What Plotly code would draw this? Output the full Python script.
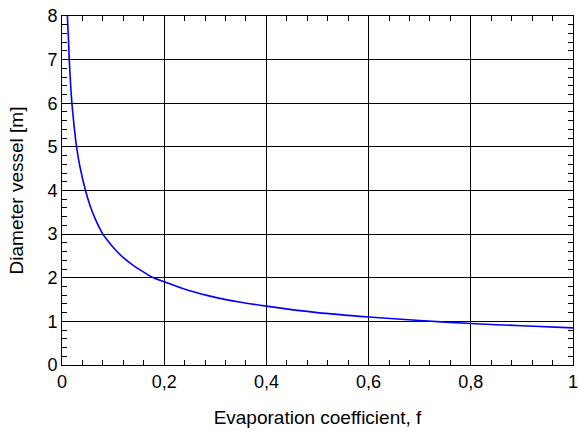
import plotly.graph_objects as go

f_vals = [0.0105, 0.0125, 0.0142, 0.0165, 0.0194, 0.0235, 0.0285, 0.035, 0.046, 0.055,
          0.065, 0.08, 0.09, 0.10, 0.12, 0.14, 0.16, 0.179, 0.20, 0.25, 0.30, 0.35,
          0.40, 0.50, 0.60, 0.70, 0.80, 0.90, 1.00]
d_vals = [8.0, 7.5, 7.0, 6.5, 6.0, 5.5, 5.0, 4.55, 4.0, 3.65,
          3.35, 3.0, 2.84, 2.7, 2.46, 2.28, 2.13, 2.0, 1.91, 1.7, 1.55, 1.44,
          1.35, 1.2, 1.1, 1.02, 0.95, 0.9, 0.85]

x_labels = ["0", "0,2", "0,4", "0,6", "0,8", "1"]
y_labels = ["0", "1", "2", "3", "4", "5", "6", "7", "8"]

X_RANGE = [0, 1]
Y_RANGE = [0, 8]
X_SUB = 5   # tick subdivisions per labelled interval
Y_SUB = 5

# tick positions: every minor step; label only on the major ones
x_tickvals, x_ticktext = [], []
for i, lab in enumerate(x_labels):
    for k in range(X_SUB if i < len(x_labels) - 1 else 1):
        x_tickvals.append(round((i * X_SUB + k) * 0.2 / X_SUB, 4))
        x_ticktext.append(lab if k == 0 else "")
y_tickvals, y_ticktext = [], []
for i, lab in enumerate(y_labels):
    for k in range(Y_SUB if i < len(y_labels) - 1 else 1):
        y_tickvals.append(round((i * Y_SUB + k) * 1.0 / Y_SUB, 4))
        y_ticktext.append(lab if k == 0 else "")

fig = go.Figure()
# transparent copy on the grid axes so they are drawn
fig.add_trace(go.Scatter(x=f_vals, y=d_vals, mode="lines", xaxis="x2", yaxis="y2",
                         line=dict(color="rgba(0,0,0,0)", width=1),
                         showlegend=False, hoverinfo="skip"))
fig.add_trace(go.Scatter(x=f_vals, y=d_vals, mode="lines",
                         line=dict(color="#0000ff", width=1.6, shape="spline", smoothing=0.8),
                         showlegend=False))

font = dict(family="Liberation Sans, Arial, sans-serif", size=18, color="black")

fig.update_layout(
    width=579, height=431,
    margin=dict(l=62, r=1, t=16, b=66),
    paper_bgcolor="white", plot_bgcolor="white",
    font=font,
    xaxis=dict(range=X_RANGE, tickmode="array", tickvals=x_tickvals, ticktext=x_ticktext,
               showgrid=False,
               showline=True, linecolor="black", linewidth=1, mirror="ticks",
               ticks="inside", ticklen=5, tickcolor="black", tickwidth=1.2,
               ticklabeloverflow="allow",
               zeroline=False,
               title=dict(text="Evaporation coefficient, f", font=dict(size=19), standoff=20),
               tickfont=dict(size=18)),
    yaxis=dict(range=Y_RANGE, tickmode="array", tickvals=y_tickvals, ticktext=y_ticktext,
               showgrid=False,
               showline=True, linecolor="black", linewidth=1, mirror="ticks",
               ticks="inside", ticklen=5, tickcolor="black", tickwidth=1.2,
               zeroline=False,
               title=dict(text="Diameter vessel [m]", font=dict(size=19), standoff=18),
               tickfont=dict(size=18)),
    xaxis2=dict(range=X_RANGE, overlaying="x", side="top", anchor="y2",
                tickmode="linear", tick0=0, dtick=0.2, showticklabels=False,
                showgrid=True, gridcolor="black", gridwidth=1,
                zeroline=False, showline=False, ticks=""),
    yaxis2=dict(range=Y_RANGE, overlaying="y", side="right", anchor="x2",
                tickmode="linear", tick0=0, dtick=1, showticklabels=False,
                showgrid=True, gridcolor="black", gridwidth=1,
                zeroline=False, showline=False, ticks=""),
)

fig.write_html("out.html")
